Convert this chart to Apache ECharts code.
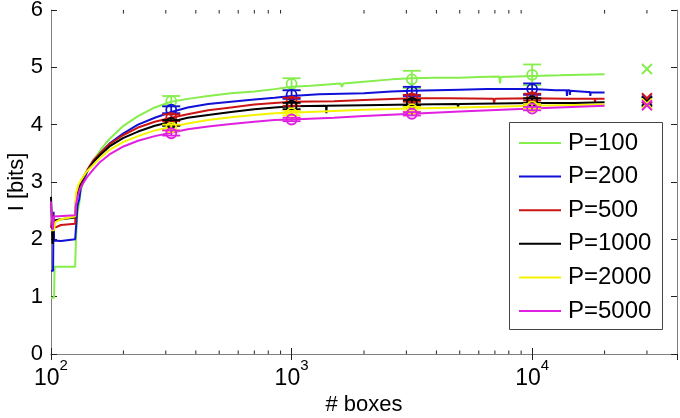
<!DOCTYPE html>
<html><head><meta charset="utf-8">
<script src="https://cdn.jsdelivr.net/npm/echarts@6/dist/echarts.min.js"></script>
<style>html,body{margin:0;padding:0;background:#fff}#c{width:680px;height:418px}</style>
</head><body><div id="c"></div>
<script>
const seriesNames = ['P=100','P=200','P=500','P=1000','P=2000','P=5000'];
const seriesColors = ['#86ee4c','#1010d8','#cc1414','#000000','#f4f400','#e020e0'];

const p100 = [[100,0.98],[103,0.98],[103.5,1.52],[126,1.52],[127,2.0],[129,2.5],[131,2.62],[133,2.85],[137,3.05],[142,3.2],[150,3.38],[160,3.55],[175,3.75],[200,3.98],[230,4.15],[270,4.3],[316,4.4],[370,4.45],[450,4.5],[560,4.55],[700,4.58],[850,4.62],[1000,4.66],[1200,4.68],[1600,4.72],[1620,4.66],[1640,4.72],[2000,4.75],[2600,4.79],[3162,4.81],[4000,4.82],[5000,4.82],[6000,4.83],[7300,4.84],[7350,4.72],[7400,4.83],[10000,4.85],[13000,4.86],[16000,4.87],[20000,4.88]];
const p200 = [[100,1.45],[102,1.45],[102.5,2.48],[103,1.98],[110,1.97],[112,2.0],[126,2.0],[127,2.2],[129,2.6],[131,2.7],[133,2.9],[137,3.05],[142,3.2],[150,3.35],[160,3.5],[175,3.67],[200,3.85],[230,4.0],[270,4.12],[316,4.22],[370,4.3],[450,4.36],[560,4.4],[700,4.44],[850,4.47],[1000,4.5],[1300,4.53],[2000,4.55],[2600,4.58],[3162,4.59],[4000,4.6],[5000,4.61],[6500,4.62],[8000,4.62],[10000,4.62],[11500,4.61],[12500,4.6],[13900,4.6],[13950,4.5],[14000,4.6],[14300,4.6],[14350,4.52],[14400,4.59],[17000,4.57],[17400,4.57],[17450,4.5],[17500,4.56],[20000,4.56]];
const p500 = [[100,2.2],[101,2.2],[101.5,2.45],[102,2.2],[106,2.22],[110,2.25],[126,2.27],[127,2.6],[129,2.8],[132,2.95],[137,3.1],[142,3.22],[150,3.38],[160,3.5],[175,3.66],[200,3.82],[230,3.95],[270,4.05],[316,4.12],[370,4.18],[450,4.25],[560,4.3],[700,4.35],[850,4.38],[1000,4.4],[1500,4.41],[2000,4.43],[3162,4.46],[4500,4.46],[6900,4.45],[6950,4.38],[7000,4.45],[10000,4.46],[14000,4.45],[18200,4.45],[18250,4.38],[18300,4.45],[20000,4.45]];
const p1000 = [[100,2.74],[101,2.74],[101.5,1.92],[102.5,1.92],[103,2.33],[110,2.35],[126,2.38],[127,2.7],[129,2.85],[132,2.98],[137,3.1],[142,3.2],[150,3.35],[160,3.47],[175,3.62],[200,3.77],[230,3.88],[270,3.98],[316,4.05],[370,4.12],[450,4.17],[560,4.22],[700,4.27],[850,4.3],[1000,4.32],[1390,4.33],[1395,4.2],[1400,4.33],[2000,4.34],[3162,4.35],[4900,4.36],[4920,4.3],[4950,4.36],[10000,4.38],[15000,4.38],[20000,4.39]];
const p2000 = [[100,2.16],[103,2.16],[104,2.3],[110,2.35],[126,2.4],[127,2.8],[130,2.95],[134,3.05],[140,3.17],[150,3.3],[160,3.42],[175,3.56],[200,3.7],[230,3.8],[270,3.9],[316,3.96],[370,4.02],[450,4.08],[560,4.13],[700,4.17],[850,4.2],[1000,4.21],[2000,4.26],[3162,4.28],[5000,4.3],[10000,4.33],[20000,4.35]];
const p5000 = [[100,2.66],[101,2.66],[101.5,2.16],[102.5,2.16],[103,2.4],[126,2.42],[127,2.6],[129,2.75],[132,2.88],[137,3.0],[142,3.1],[150,3.22],[160,3.35],[175,3.48],[200,3.62],[230,3.72],[270,3.8],[316,3.86],[370,3.92],[450,3.97],[560,4.01],[700,4.05],[850,4.08],[1000,4.09],[1500,4.12],[2000,4.15],[3162,4.19],[5000,4.23],[10000,4.28],[20000,4.33]];
const lineData = [p100,p200,p500,p1000,p2000,p5000];

// error bars: x positions, mean, low, high per series
const ebX = [316, 1000, 3162, 10000];
const ebMean = [[4.41,4.71,4.79,4.87],[4.26,4.52,4.58,4.62],[4.12,4.40,4.46,4.48],[4.03,4.33,4.38,4.41],[3.95,4.20,4.27,4.32],[3.85,4.09,4.19,4.28]];
const ebLow  = [[4.32,4.60,4.64,4.69],[4.20,4.45,4.50,4.52],[4.06,4.33,4.40,4.42],[3.98,4.27,4.33,4.36],[3.90,4.16,4.23,4.28],[3.81,4.06,4.16,4.25]];
const ebHigh = [[4.50,4.81,4.94,5.05],[4.32,4.60,4.66,4.72],[4.18,4.47,4.52,4.54],[4.08,4.38,4.43,4.46],[4.00,4.24,4.31,4.36],[3.90,4.12,4.22,4.31]];

// cross markers at far right
const crossX = 30000;
const crossY = [4.97, 4.42, 4.46, 4.40, 4.37, 4.34];

const yTicks = [0,1,2,3,4,5,6];
const minorTicks = [200,300,400,500,600,700,800,900,2000,3000,4000,5000,6000,7000,8000,9000,20000,30000];

const FONT = "'Liberation Sans', Arial, Helvetica, sans-serif";

function ebRender(params, api){
  const x = api.value(0), m = api.value(1), lo = api.value(2), hi = api.value(3);
  const pm = api.coord([x,m]), pl = api.coord([x,lo]), ph = api.coord([x,hi]);
  const color = api.visual('color');
  const w = 9, st = {stroke: color, lineWidth: 1.8, fill: 'none'};
  return {type:'group', children:[
    {type:'line', shape:{x1:pl[0],y1:pl[1],x2:ph[0],y2:ph[1]}, style:st},
    {type:'line', shape:{x1:ph[0]-w,y1:ph[1],x2:ph[0]+w,y2:ph[1]}, style:st},
    {type:'line', shape:{x1:pl[0]-w,y1:pl[1],x2:pl[0]+w,y2:pl[1]}, style:st},
    {type:'circle', shape:{cx:pm[0],cy:pm[1],r:5}, style:st}
  ]};
}
function crossRender(params, api){
  const p = api.coord([api.value(0), api.value(1)]);
  const color = api.visual('color');
  const s = 5, st = {stroke: color, lineWidth: 2};
  return {type:'group', children:[
    {type:'line', shape:{x1:p[0]-s,y1:p[1]-s,x2:p[0]+s,y2:p[1]+s}, style:st},
    {type:'line', shape:{x1:p[0]-s,y1:p[1]+s,x2:p[0]+s,y2:p[1]-s}, style:st}
  ]};
}
function minorRender(params, api){
  const b = api.coord([api.value(0), 0]);
  const t = api.coord([api.value(0), 6]);
  const st = {stroke:'#222', lineWidth:1};
  return {type:'group', children:[
    {type:'line', shape:{x1:b[0],y1:b[1],x2:b[0],y2:b[1]-3.5}, style:st},
    {type:'line', shape:{x1:t[0],y1:t[1],x2:t[0],y2:t[1]+3.5}, style:st}
  ]};
}

const series = [];
seriesNames.forEach((n,i)=>{
  series.push({type:'line', name:n, data:lineData[i], showSymbol:false, symbol:'none',
    lineStyle:{color:seriesColors[i], width:2}, itemStyle:{color:seriesColors[i]}, z:2});
});
seriesNames.forEach((n,i)=>{
  series.push({type:'custom', name:'eb'+i, renderItem:ebRender, itemStyle:{color:seriesColors[i]},
    encode:{x:0, y:[1,2,3]}, z:3,
    data: ebX.map((x,j)=>[x, ebMean[i][j], ebLow[i][j], ebHigh[i][j]])});
});
series.push({type:'custom', name:'cross', renderItem:crossRender, encode:{x:0,y:1}, z:3,
  data: crossY.map((v,i)=>({value:[crossX, v], itemStyle:{color:seriesColors[i]}}))});
series.push({type:'custom', name:'minor', renderItem:minorRender, encode:{x:0,y:1}, z:1,
  data: minorTicks.map(v=>[v,0])});

function xLabel(v){
  const e = Math.log10(v), r = Math.round(e);
  if (Math.abs(e - r) > 1e-6) return '';
  return '{b|10}{s|' + r + '}';
}

const axisLineGray = {show:true, lineStyle:{color:'#808080', width:1}};
const tickStyle = {show:true, inside:true, length:6, lineStyle:{color:'#222', width:1}};

const option = {
  animation:false,
  backgroundColor:'#fff',
  grid:{left:51, right:3, top:10, bottom:64, containLabel:false, outerBoundsMode:'none'},
  xAxis:[
    {type:'log', logBase:10, min:100, max:40000, interval:1, position:'bottom',
     axisLine:axisLineGray, axisTick:tickStyle, splitLine:{show:false}, minorTick:{show:false},
     axisLabel:{formatter:xLabel, margin:4, showMaxLabel:false,
       rich:{b:{fontSize:23, fontFamily:FONT, color:'#000', lineHeight:32, verticalAlign:'bottom'},
             s:{fontSize:15, fontFamily:FONT, color:'#000', lineHeight:32, verticalAlign:'top'}}},
     name:'# boxes', nameLocation:'middle', nameGap:40, nameMoveOverlap:false,
     nameTextStyle:{fontSize:22, fontFamily:FONT, color:'#000'}},
    {type:'log', logBase:10, min:100, max:40000, interval:1, position:'top',
     axisLine:axisLineGray, axisTick:tickStyle, axisLabel:{show:false}, splitLine:{show:false}}
  ],
  yAxis:[
    {type:'value', min:0, max:6, interval:1, position:'left',
     axisLine:axisLineGray, axisTick:tickStyle, splitLine:{show:false},
     axisLabel:{fontSize:22, fontFamily:FONT, color:'#000', margin:8,
       formatter:v=> yTicks.includes(v) ? String(v) : ''},
     name:'I [bits]', nameLocation:'middle', nameGap:23, nameMoveOverlap:false,
     nameTextStyle:{fontSize:22, fontFamily:FONT, color:'#000'}},
    {type:'value', min:0, max:6, interval:1, position:'right',
     axisLine:axisLineGray, axisTick:tickStyle, axisLabel:{show:false}, splitLine:{show:false}}
  ],
  graphic:[{type:'rect', shape:{x:509.5, y:122.5, width:153, height:207},
    style:{fill:'#fff', stroke:'#444', lineWidth:1}, z:5}],
  legend:{show:true, orient:'vertical', left:519, top:131, padding:0, z:6,
    selectedMode:false, icon:'rect', itemWidth:42, itemHeight:2, itemGap:9.6,
    data:seriesNames,
    textStyle:{fontSize:24, fontFamily:FONT, color:'#000', lineHeight:20, padding:[0,0,0,2]}},
  series:series
};
const chart = echarts.init(document.getElementById('c'), null, {renderer:'canvas'});
chart.setOption(option);
</script>
</body></html>
